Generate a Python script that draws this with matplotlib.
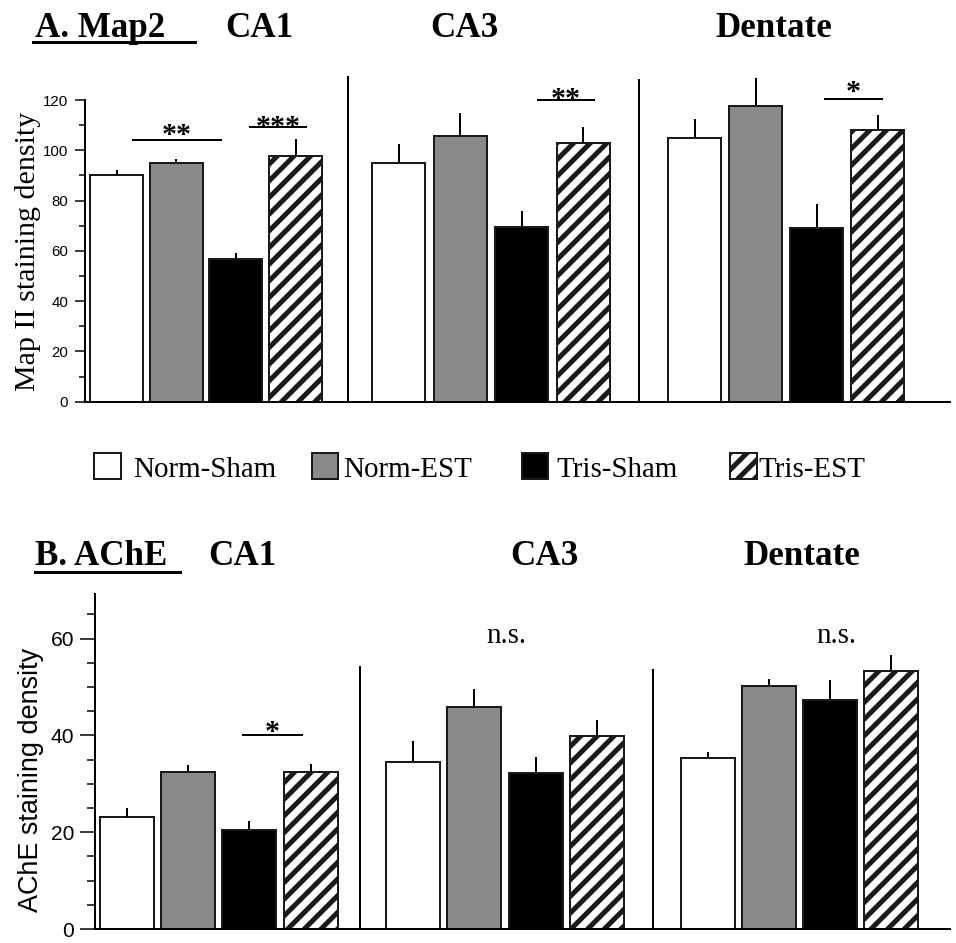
import numpy as np
import matplotlib
matplotlib.use("Agg")
import matplotlib.pyplot as plt
from matplotlib.patches import Rectangle
from matplotlib.lines import Line2D

# Taille de l'image en pixels
W, H, DPI = 956, 943, 150
PT = 72 / DPI  # points par pixel

plt.rcParams['hatch.linewidth'] = 5 * PT
SERIF = 'Liberation Serif'
SANS = 'Liberation Sans'

# Dados
groups = ['CA1', 'CA3', 'Dentate']
conditions = ['Norm-Sham', 'Norm-EST', 'Tris-Sham', 'Tris-EST']

# A. Map2 (média e erro padrão)
map2_ca1 = [90.2, 94.8, 56.8, 97.9]
map2_ca3 = [94.8, 105.8, 69.4, 103.0]
map2_dg = [105.0, 117.6, 69.1, 108.1]
map2_ca1_sem = [1.8, 1.7, 2.5, 6.5]
map2_ca3_sem = [7.7, 9.2, 6.6, 6.1]
map2_dg_sem = [7.3, 11.0, 9.5, 5.9]

# B. AChE
ache_ca1 = [23.2, 32.5, 20.4, 32.5]
ache_ca3 = [34.4, 45.8, 32.2, 39.9]
ache_dg = [35.3, 50.1, 47.2, 53.2]
ache_ca1_sem = [1.7, 1.3, 2.0, 1.5]
ache_ca3_sem = [4.4, 3.8, 3.4, 3.2]
ache_dg_sem = [1.3, 1.5, 4.2, 3.4]

# Estilo das barras
fills = ['white', '#8a8a8a', 'black', 'white']
hatches = [None, None, None, '///']


def fx(px):
    return px / W


def fy(py):
    return 1 - py / H


def make_axes(fig, left, top, right, bottom):
    ax = fig.add_axes([fx(left), fy(bottom), (right - left) / W, (bottom - top) / H])
    ax.set_xlim(left, right)
    for s in ['top', 'right']:
        ax.spines[s].set_visible(False)
    for s in ['left', 'bottom']:
        ax.spines[s].set_linewidth(2 * PT)
    ax.set_xticks([])
    return ax


def draw_bars(ax, means, sems, first, pitch, width):
    for g in range(len(groups)):
        xs = first[g] + pitch[g] * np.arange(len(conditions))
        m = np.array(means[g])
        e = np.array(sems[g])
        for i in range(len(conditions)):
            ax.bar(xs[i], m[i], width, color=fills[i], edgecolor='#1a1a1a',
                   linewidth=2 * PT, hatch=hatches[i], zorder=2)
        ax.vlines(xs, m, m + e, color='black', lw=2 * PT, zorder=3, clip_on=False)


def sig(ax, x0, x1, y, label, lift):
    ax.plot([x0, x1], [y, y], color='black', lw=2 * PT, clip_on=False)
    ax.annotate(label, xy=((x0 + x1) / 2, y), xytext=(0, (lift - 15) * PT),
                textcoords='offset points', ha='center', va='baseline',
                fontsize=30 * PT, family=SERIF, weight='bold', annotation_clip=False)


fig = plt.figure(figsize=(W / DPI, H / DPI), dpi=DPI)

# ---- Painel A ----
axA = make_axes(fig, 85, 100, 950, 401.7)
axA.set_ylim(0, 120)
axA.set_yticks(np.arange(0, 121, 20))
axA.set_yticks(np.arange(0, 121, 10), minor=True)
axA.tick_params(axis='y', which='major', length=5, width=1.5 * PT, pad=3,
                labelsize=15 * PT)
axA.tick_params(axis='y', which='minor', length=3, width=1.5 * PT)
for t in axA.get_yticklabels():
    t.set_family(SANS)
draw_bars(axA, [map2_ca1, map2_ca3, map2_dg],
          [map2_ca1_sem, map2_ca3_sem, map2_dg_sem],
          first=[116.7, 398.8, 694.8], pitch=[59.6, 61.4, 61.0], width=53)
axA.plot([347.7, 347.7], [0, 129.3], color='black', lw=2 * PT, clip_on=False)
axA.plot([639.3, 639.3], [0, 128.0], color='black', lw=2 * PT, clip_on=False)
sig(axA, 132.7, 221.0, 104.1, '**', 12)
sig(axA, 250.0, 305.7, 109.1, '***', 7)
sig(axA, 537.7, 594.3, 120.0, '**', 8)
sig(axA, 825.0, 881.7, 120.5, '*', 14)

# ---- Painel B ----
axB = make_axes(fig, 95, 593.5, 950, 929.0)
axB.set_ylim(0, 69.3)
axB.set_yticks([0, 20, 40, 60])
axB.set_yticks(np.arange(0, 70, 5), minor=True)
axB.tick_params(axis='y', which='major', length=7, width=1.5 * PT, pad=3,
                labelsize=21 * PT)
axB.tick_params(axis='y', which='minor', length=4, width=1.5 * PT)
for t in axB.get_yticklabels():
    t.set_family(SANS)
draw_bars(axB, [ache_ca1, ache_ca3, ache_dg],
          [ache_ca1_sem, ache_ca3_sem, ache_dg_sem],
          first=[127.0, 412.8, 708.2], pitch=[61.2, 61.5, 61.0], width=54)
axB.plot([360.0, 360.0], [0, 54.2], color='black', lw=2 * PT, clip_on=False)
axB.plot([652.7, 652.7], [0, 53.5], color='black', lw=2 * PT, clip_on=False)
sig(axB, 243.0, 301.7, 40.1, '*', 10)
for x in [506.7, 836.7]:
    axB.text(x, 59.0, 'n.s.', ha='center', va='baseline', fontsize=29 * PT,
             family=SERIF)

# ---- Títulos ----
titles = [('A. Map2', 35, 36.7), ('CA1', 225, 36.7), ('CA3', 430, 36.7),
          ('Dentate', 715, 36.7), ('B. AChE', 35, 565), ('CA1', 208, 565),
          ('CA3', 510, 565), ('Dentate', 743, 565)]
for txt, x, y in titles:
    fig.text(fx(x), fy(y), txt, ha='left', va='baseline', fontsize=35 * PT,
             family=SERIF, weight='bold')
for x0, x1, y in [(33, 195, 41.7), (35, 180, 571.7)]:
    fig.add_artist(Line2D([fx(x0), fx(x1)], [fy(y), fy(y)], color='black',
                          lw=3 * PT, transform=fig.transFigure))

fig.text(fx(28.5), fy(251), 'Map II staining density', rotation=90, ha='center',
         va='center', fontsize=30 * PT, family=SERIF)
fig.text(fx(31), fy(780), 'AChE staining density', rotation=90, ha='center',
         va='center', fontsize=27 * PT, family=SANS)

# ---- Legenda ----
box_left = [94, 311.7, 521.7, 730]
text_left = [133, 343, 556, 758]
for i, name in enumerate(conditions):
    fig.add_artist(Rectangle((fx(box_left[i]), fy(479.3)), 26.5 / W, 26.5 / H,
                             transform=fig.transFigure, facecolor=fills[i],
                             edgecolor='#1a1a1a', lw=2 * PT, hatch=hatches[i]))
    fig.text(fx(text_left[i]), fy(476.7), name, ha='left', va='baseline',
             fontsize=29 * PT, family=SERIF)

fig.savefig('out.png', dpi=DPI)
